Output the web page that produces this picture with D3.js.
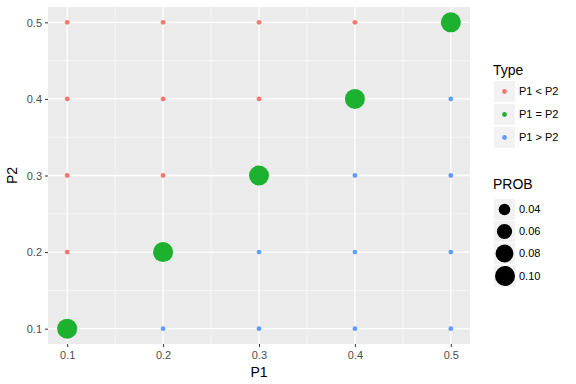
<!DOCTYPE html>
<html>
<head>
<meta charset="utf-8">
<script src="https://cdn.jsdelivr.net/npm/d3@7"></script>
<style>
  body { margin: 0; background: #fff; }
  text { font-family: "Liberation Sans", Arial, sans-serif; }
</style>
</head>
<body>
<div id="chart"></div>
<script>
// data: joint probabilities on a 5x5 grid of P1, P2
const p1Values = [0.1, 0.2, 0.3, 0.4, 0.5];
const p2Values = [0.1, 0.2, 0.3, 0.4, 0.5];
const probOff = 0.025;   // every off-diagonal cell
const probDiag = [0.1, 0.1, 0.1, 0.1, 0.1];
const typeLabels = ["P1 < P2", "P1 = P2", "P1 > P2"];
const typeColors = ["#F8766D", "#1CB22F", "#619CFF"];
const probBreaks = [0.04, 0.06, 0.08, 0.10];
const ticks = [0.1, 0.2, 0.3, 0.4, 0.5];
const minorTicks = [0.15, 0.25, 0.35, 0.45];

const width = 576,
  height = 384,
  marginLeft = 48,
  marginRight = 106,
  marginTop = 7,
  marginBottom = 40;

const points = [];
p1Values.forEach((p1, i) => {
  p2Values.forEach((p2, j) => {
    const type = i < j ? 0 : i === j ? 1 : 2;
    points.push({ p1, p2, type, prob: i === j ? probDiag[i] : probOff });
  });
});

const x = d3.scaleLinear([0.08, 0.52], [marginLeft, width - marginRight]);
const y = d3.scaleLinear([0.08, 0.52], [height - marginBottom, marginTop]);
const probExtent = d3.extent(points, (d) => d.prob);
// ggplot-like area scale: radius grows with sqrt of rescaled value
const r = (v) =>
  2.4 + (10 - 2.4) * Math.sqrt((v - probExtent[0]) / (probExtent[1] - probExtent[0]));

const svg = d3
  .select("#chart")
  .append("svg")
  .attr("width", width)
  .attr("height", height)
  .attr("viewBox", [0, 0, width, height]);

// panel
svg
  .append("rect")
  .attr("x", marginLeft)
  .attr("y", marginTop)
  .attr("width", width - marginRight - marginLeft)
  .attr("height", height - marginBottom - marginTop)
  .attr("fill", "#EBEBEB");

// grid
const grid = svg.append("g").attr("stroke", "#fff");
grid
  .selectAll(".vminor")
  .data(minorTicks)
  .join("line")
  .attr("x1", (d) => x(d))
  .attr("x2", (d) => x(d))
  .attr("y1", marginTop)
  .attr("y2", height - marginBottom)
  .attr("stroke-width", 0.6);
grid
  .selectAll(".hminor")
  .data(minorTicks)
  .join("line")
  .attr("y1", (d) => y(d))
  .attr("y2", (d) => y(d))
  .attr("x1", marginLeft)
  .attr("x2", width - marginRight)
  .attr("stroke-width", 0.6);
grid
  .selectAll(".vmajor")
  .data(ticks)
  .join("line")
  .attr("x1", (d) => x(d))
  .attr("x2", (d) => x(d))
  .attr("y1", marginTop)
  .attr("y2", height - marginBottom)
  .attr("stroke-width", 1.3);
grid
  .selectAll(".hmajor")
  .data(ticks)
  .join("line")
  .attr("y1", (d) => y(d))
  .attr("y2", (d) => y(d))
  .attr("x1", marginLeft)
  .attr("x2", width - marginRight)
  .attr("stroke-width", 1.3);

// axes
const xAxis = d3.axisBottom(x).tickValues(ticks).tickSize(3).tickPadding(4).tickFormat(d3.format(".1f"));
const yAxis = d3.axisLeft(y).tickValues(ticks).tickSize(3).tickPadding(3).tickFormat(d3.format(".1f"));

svg
  .append("g")
  .attr("transform", `translate(0,${height - marginBottom})`)
  .call(xAxis)
  .call((g) => g.select(".domain").remove())
  .call((g) => g.selectAll(".tick line").attr("stroke", "#333"))
  .call((g) =>
    g.selectAll(".tick text").attr("fill", "#4D4D4D").attr("font-size", 11)
      .attr("font-family", "Liberation Sans, Arial, sans-serif")
  );

svg
  .append("g")
  .attr("transform", `translate(${marginLeft},0)`)
  .call(yAxis)
  .call((g) => g.select(".domain").remove())
  .call((g) => g.selectAll(".tick line").attr("stroke", "#333"))
  .call((g) =>
    g.selectAll(".tick text").attr("fill", "#4D4D4D").attr("font-size", 11)
      .attr("dy", "0.35em")
      .attr("font-family", "Liberation Sans, Arial, sans-serif")
  );

// axis titles
svg
  .append("text")
  .attr("x", (marginLeft + width - marginRight) / 2)
  .attr("y", 377)
  .attr("text-anchor", "middle")
  .attr("font-size", 14)
  .text("P1");

svg
  .append("text")
  .attr("transform", `translate(17,${(marginTop + height - marginBottom) / 2}) rotate(-90)`)
  .attr("text-anchor", "middle")
  .attr("font-size", 14)
  .text("P2");

// points
svg
  .append("g")
  .selectAll("circle")
  .data(points)
  .join("circle")
  .attr("cx", (d) => x(d.p1))
  .attr("cy", (d) => y(d.p2))
  .attr("r", (d) => r(d.prob))
  .attr("fill", (d) => typeColors[d.type]);

// legend: Type
const legendX = 494;
const keySize = 21;
const typeLegend = svg.append("g");
typeLegend
  .append("text")
  .attr("x", legendX - 1)
  .attr("y", 75)
  .attr("font-size", 14)
  .text("Type");
typeLabels.forEach((label, i) => {
  const ky = 81 + i * 23;
  typeLegend
    .append("rect")
    .attr("x", legendX)
    .attr("y", ky)
    .attr("width", keySize)
    .attr("height", keySize)
    .attr("fill", "#F2F2F2");
  typeLegend
    .append("circle")
    .attr("cx", legendX + keySize / 2)
    .attr("cy", ky + keySize / 2)
    .attr("r", 2.4)
    .attr("fill", typeColors[i]);
  typeLegend
    .append("text")
    .attr("x", 519)
    .attr("y", ky + keySize / 2)
    .attr("dy", "0.35em")
    .attr("font-size", 11)
    .text(label);
});

// legend: PROB
const probLegend = svg.append("g");
probLegend
  .append("text")
  .attr("x", legendX - 1)
  .attr("y", 189)
  .attr("font-size", 14)
  .text("PROB");
let ky = 199;
probBreaks.forEach((b) => {
  const size = Math.max(keySize, 2 * r(b) + 2);
  probLegend
    .append("rect")
    .attr("x", legendX)
    .attr("y", ky)
    .attr("width", size)
    .attr("height", size)
    .attr("fill", "#F2F2F2");
  probLegend
    .append("circle")
    .attr("cx", legendX + size / 2)
    .attr("cy", ky + size / 2)
    .attr("r", r(b))
    .attr("fill", "#000");
  probLegend
    .append("text")
    .attr("x", 519)
    .attr("y", ky + size / 2)
    .attr("dy", "0.35em")
    .attr("font-size", 11)
    .text(d3.format(".2f")(b));
  ky += size + 1;
});
</script>
</body>
</html>
